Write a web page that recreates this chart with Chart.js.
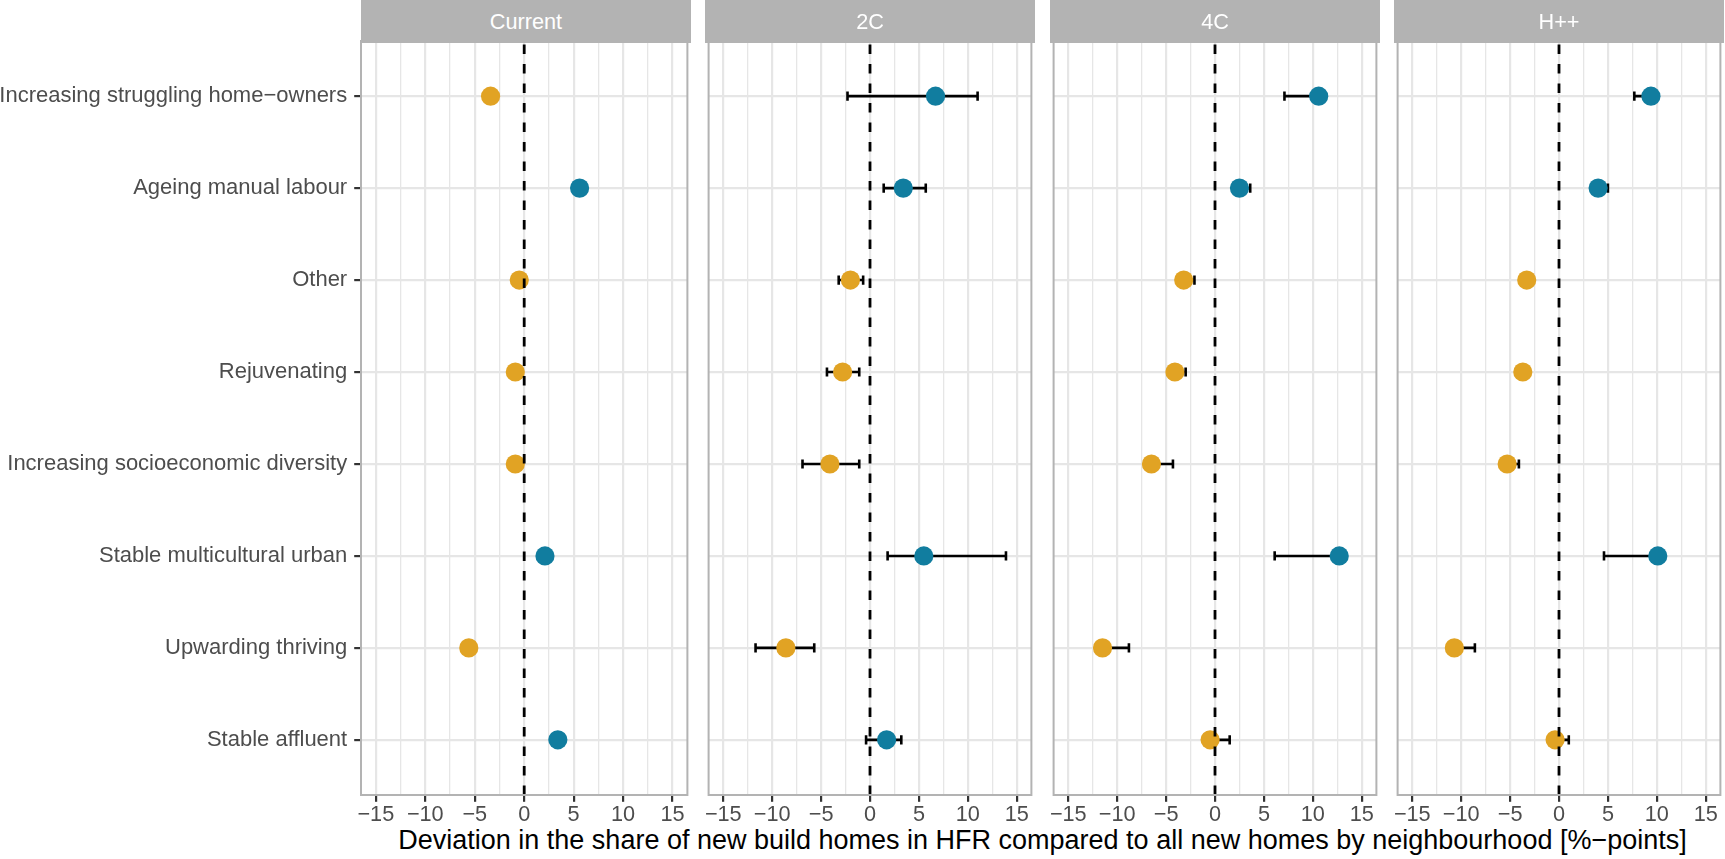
<!DOCTYPE html>
<html>
<head>
<meta charset="utf-8">
<script src="https://cdn.jsdelivr.net/npm/chart.js@4.4.1/dist/chart.umd.min.js"></script>
<style>
  body { margin: 0; background: #fff; width: 1725px; height: 859px; overflow: hidden; position: relative;
         font-family: 'Liberation Sans', Arial, sans-serif; }
  .strip { position: absolute; top: 0; height: 43px; width: 330px; background: #b3b3b3; color: #fff;
           font-size: 21.7px; line-height: 43px; text-align: center; z-index: 2; }
  canvas { position: absolute; top: 10px; }
  #xtitle { position: absolute; left: 361px; width: 1363px; top: 827px; text-align: center;
            font-size: 27px; line-height: 27px; color: #000; white-space: nowrap; }
</style>
</head>
<body>
<div id="xtitle">Deviation in the share of new build homes in HFR compared to all new homes by neighbourhood [%−points]</div>
<script>
// Data
const categories = [
    'Increasing struggling home−owners',
    'Ageing manual labour',
    'Other',
    'Rejuvenating',
    'Increasing socioeconomic diversity',
    'Stable multicultural urban',
    'Upwarding thriving',
    'Stable affluent'
];
const panelNames = ['Current', '2C', '4C', 'H++'];

const currentValues = [-3.4, 5.6, -0.5, -0.9, -0.9, 2.1, -5.6, 3.4];

const c2Values = [6.7, 3.4, -2.0, -2.8, -4.1, 5.5, -8.6, 1.7];
const c2Lower  = [-2.3, 1.4, -3.2, -4.4, -6.9, 1.8, -11.7, -0.4];
const c2Upper  = [11.0, 5.7, -0.7, -1.1, -1.1, 13.9, -5.7, 3.2];

const c4Values = [10.6, 2.5, -3.2, -4.1, -6.5, 12.7, -11.5, -0.5];
const c4Lower  = [7.1, 2.0, -3.6, -4.5, -6.9, 6.1, -11.9, -0.9];
const c4Upper  = [11.0, 3.6, -2.1, -3.0, -4.3, 13.1, -8.8, 1.5];

const hppValues = [9.4, 4.0, -3.3, -3.7, -5.3, 10.1, -10.7, -0.4];
const hppLower  = [7.7, 3.6, -3.6, -4.0, -5.6, 4.6, -11.0, -0.7];
const hppUpper  = [9.8, 5.0, -3.0, -3.4, -4.1, 10.5, -8.6, 1.0];

const xTickValues = [-15, -12.5, -10, -7.5, -5, -2.5, 0, 2.5, 5, 7.5, 10, 12.5, 15];

// Styling
const ORANGE = '#e1a324';
const BLUE = '#117d9f';
const GRID = '#e6e6e6';
const panelLefts = [361, 705, 1050, 1394];
const PANEL_W = 330;
const PANEL_H = 754;
const PAD_TOP = 31;
const X_AXIS_H = 45;
const SIDE = 6;

Chart.defaults.font.family = "'Liberation Sans', Arial, sans-serif";

const isMajor = v => Math.abs(v % 5) < 1e-9;
const fmtTick = v => isMajor(v) ? (v < 0 ? '\u2212' + Math.abs(v) : String(v)) : '';

// Horizontal error bars, drawn under the points
const errorBars = {
    id: 'errorBars',
    beforeDatasetsDraw(chart, args, opts) {
        if (!opts.lower) return;
        const { ctx, scales: { x, y } } = chart;
        ctx.save();
        ctx.strokeStyle = '#000';
        ctx.lineWidth = 2.6;
        opts.lower.forEach((lo, i) => {
            const yp = y.getPixelForValue(i);
            const x1 = x.getPixelForValue(lo);
            const x2 = x.getPixelForValue(opts.upper[i]);
            ctx.beginPath();
            ctx.moveTo(x1, yp); ctx.lineTo(x2, yp);
            ctx.moveTo(x1, yp - 4.6); ctx.lineTo(x1, yp + 4.6);
            ctx.moveTo(x2, yp - 4.6); ctx.lineTo(x2, yp + 4.6);
            ctx.stroke();
        });
        ctx.restore();
    }
};

// Dashed zero line and panel border, on top
const panelDecor = {
    id: 'panelDecor',
    afterDatasetsDraw(chart) {
        const { ctx, chartArea: a, scales: { x } } = chart;
        const x0 = x.getPixelForValue(0);
        ctx.save();
        ctx.strokeStyle = '#000';
        ctx.lineWidth = 2.8;
        ctx.setLineDash([9.5, 10]);
        ctx.beginPath();
        ctx.moveTo(x0, a.bottom);
        ctx.lineTo(x0, a.top);
        ctx.stroke();
        ctx.setLineDash([]);
        ctx.strokeStyle = '#b3b3b3';
        ctx.lineWidth = 2;
        ctx.strokeRect(a.left, a.top, a.right - a.left, a.bottom - a.top);
        ctx.restore();
    }
};

function makePanel(idx, values, lower, upper) {
    const first = idx === 0;
    const left = first ? 0 : panelLefts[idx] - SIDE;
    const width = first ? panelLefts[0] + PANEL_W + SIDE : PANEL_W + 2 * SIDE;

    const strip = document.createElement('div');
    strip.className = 'strip';
    strip.style.left = panelLefts[idx] + 'px';
    strip.textContent = panelNames[idx];
    document.body.appendChild(strip);

    const canvas = document.createElement('canvas');
    canvas.width = width;
    canvas.height = PAD_TOP + PANEL_H + X_AXIS_H;
    canvas.style.left = left + 'px';
    document.body.appendChild(canvas);

    new Chart(canvas, {
        type: 'scatter',
        data: {
            datasets: [{
                data: values.map((v, i) => ({ x: v, y: i })),
                pointRadius: 9.6,
                pointHoverRadius: 9.6,
                pointBorderWidth: 0,
                pointBackgroundColor: values.map(v => v < 0 ? ORANGE : BLUE)
            }]
        },
        options: {
            responsive: false,
            animation: false,
            events: [],
            layout: { padding: { top: PAD_TOP, bottom: 0, left: first ? 0 : SIDE, right: SIDE } },
            plugins: {
                legend: { display: false },
                tooltip: { enabled: false },
                errorBars: { lower: lower, upper: upper }
            },
            scales: {
                x: {
                    type: 'linear',
                    min: -16.5,
                    max: 16.5,
                    afterBuildTicks: s => { s.ticks = xTickValues.map(v => ({ value: v })); },
                    afterFit: s => { s.height = X_AXIS_H; },
                    ticks: {
                        autoSkip: false,
                        maxRotation: 0,
                        minRotation: 0,
                        padding: 0,
                        color: '#4d4d4d',
                        font: { size: 21.7 },
                        callback: fmtTick
                    },
                    grid: {
                        color: GRID,
                        lineWidth: c => isMajor(c.tick.value) ? 2.2 : 1.3,
                        tickColor: c => isMajor(c.tick.value) ? '#333333' : 'rgba(0,0,0,0)',
                        tickWidth: 2.2,
                        tickLength: 6.8
                    },
                    border: { display: false }
                },
                y: {
                    type: 'linear',
                    reverse: true,
                    min: -0.6,
                    max: 7.6,
                    afterBuildTicks: s => { s.ticks = categories.map((c, i) => ({ value: i })); },
                    afterFit: s => { s.width = first ? panelLefts[0] : 0; },
                    ticks: {
                        display: first,
                        autoSkip: false,
                        padding: 7,
                        color: '#4d4d4d',
                        font: { size: 22 },
                        callback: v => categories[v]
                    },
                    grid: {
                        color: GRID,
                        lineWidth: 2.2,
                        drawTicks: first,
                        tickColor: '#333333',
                        tickWidth: 2.2,
                        tickLength: 6.8
                    },
                    border: { display: false }
                }
            }
        },
        plugins: [errorBars, panelDecor]
    });
}

makePanel(0, currentValues, null, null);
makePanel(1, c2Values, c2Lower, c2Upper);
makePanel(2, c4Values, c4Lower, c4Upper);
makePanel(3, hppValues, hppLower, hppUpper);
</script>
</body>
</html>
